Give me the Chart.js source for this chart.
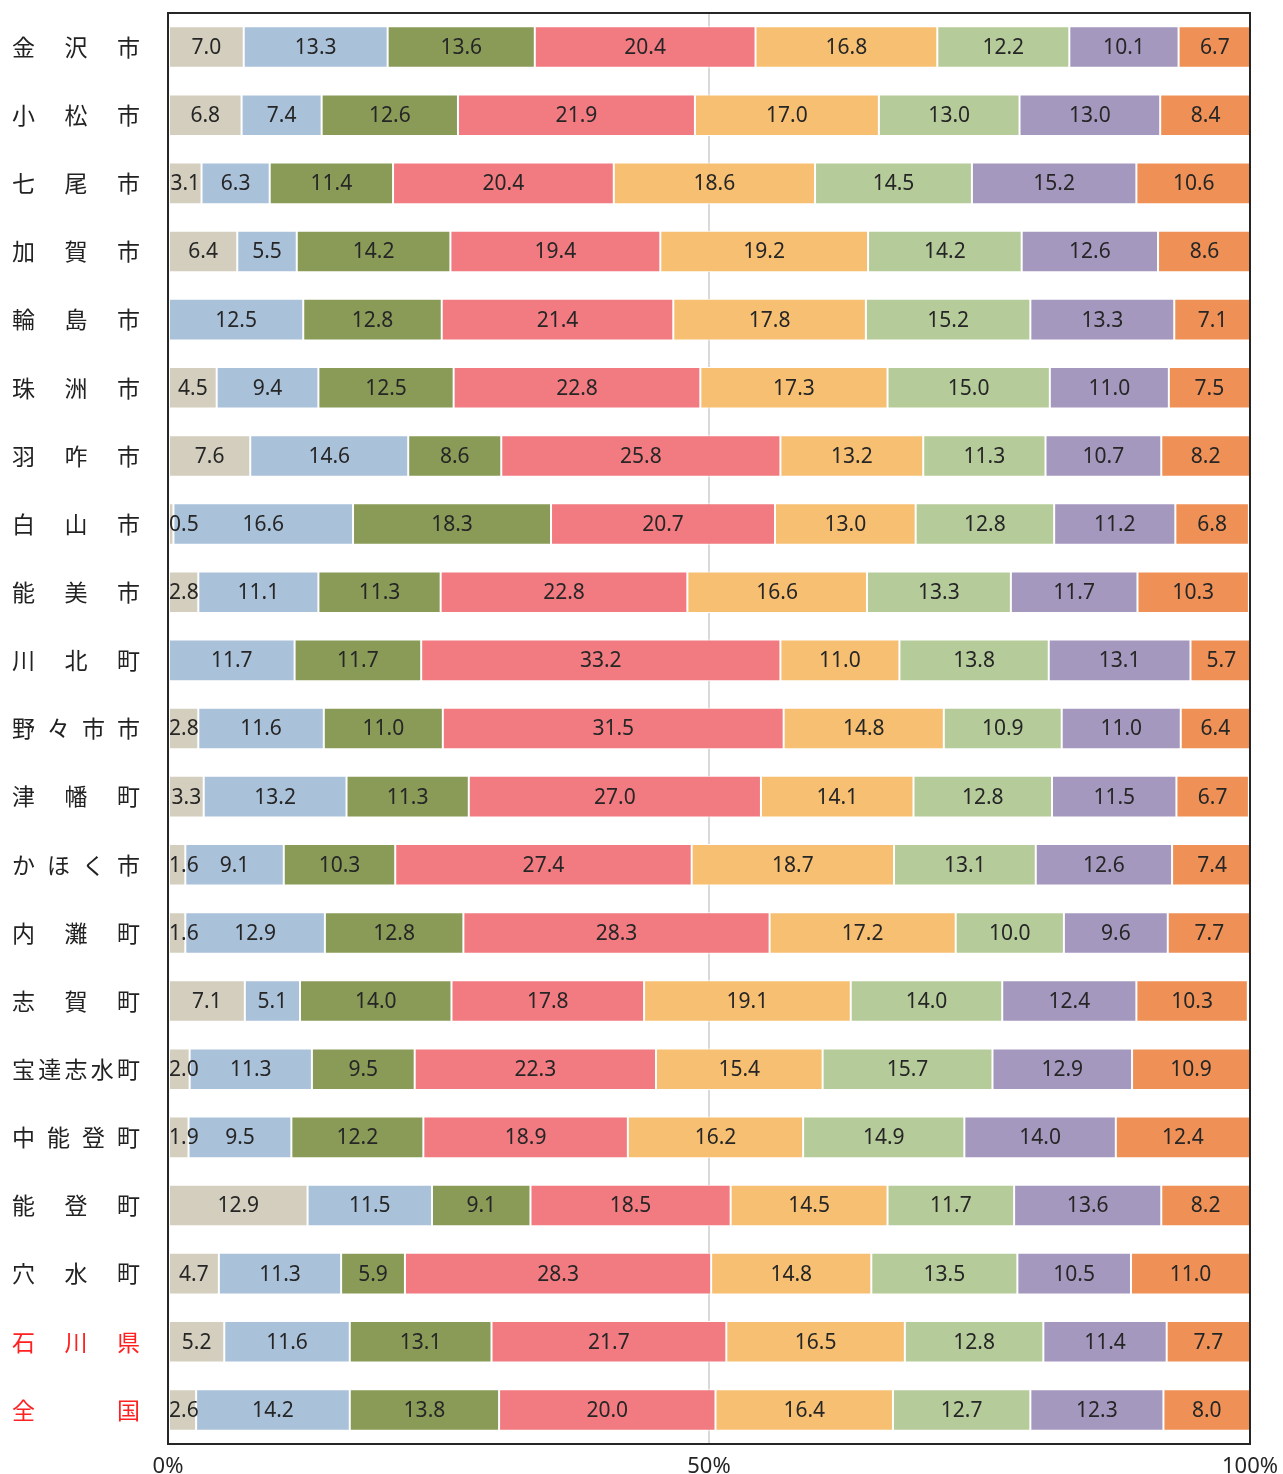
<!DOCTYPE html>
<html lang="ja">
  <head>
    <meta charset="UTF-8" />
    <title>市町別 構成比</title>
    <script src="https://cdn.jsdelivr.net/npm/chart.js"></script>
    <style>
      body {
        margin: 0;
        background: #fff;
      }
      #wrap {
        width: 1283px;
        height: 1474px;
      }
    </style>
  </head>
  <body>
    <div id="wrap"><canvas id="chart"></canvas></div>
    <script>
      const areas = [
        "金沢市", "小松市", "七尾市", "加賀市", "輪島市", "珠洲市", "羽咋市",
        "白山市", "能美市", "川北町", "野々市市", "津幡町", "かほく市", "内灘町",
        "志賀町", "宝達志水町", "中能登町", "能登町", "穴水町", "石川県", "全国",
      ];
      const redAreas = ["石川県", "全国"];

      // one array per segment, left to right
      const s1 = [7.0, 6.8, 3.1, 6.4, null, 4.5, 7.6, 0.5, 2.8, null, 2.8, 3.3, 1.6, 1.6, 7.1, 2.0, 1.9, 12.9, 4.7, 5.2, 2.6];
      const s2 = [13.3, 7.4, 6.3, 5.5, 12.5, 9.4, 14.6, 16.6, 11.1, 11.7, 11.6, 13.2, 9.1, 12.9, 5.1, 11.3, 9.5, 11.5, 11.3, 11.6, 14.2];
      const s3 = [13.6, 12.6, 11.4, 14.2, 12.8, 12.5, 8.6, 18.3, 11.3, 11.7, 11.0, 11.3, 10.3, 12.8, 14.0, 9.5, 12.2, 9.1, 5.9, 13.1, 13.8];
      const s4 = [20.4, 21.9, 20.4, 19.4, 21.4, 22.8, 25.8, 20.7, 22.8, 33.2, 31.5, 27.0, 27.4, 28.3, 17.8, 22.3, 18.9, 18.5, 28.3, 21.7, 20.0];
      const s5 = [16.8, 17.0, 18.6, 19.2, 17.8, 17.3, 13.2, 13.0, 16.6, 11.0, 14.8, 14.1, 18.7, 17.2, 19.1, 15.4, 16.2, 14.5, 14.8, 16.5, 16.4];
      const s6 = [12.2, 13.0, 14.5, 14.2, 15.2, 15.0, 11.3, 12.8, 13.3, 13.8, 10.9, 12.8, 13.1, 10.0, 14.0, 15.7, 14.9, 11.7, 13.5, 12.8, 12.7];
      const s7 = [10.1, 13.0, 15.2, 12.6, 13.3, 11.0, 10.7, 11.2, 11.7, 13.1, 11.0, 11.5, 12.6, 9.6, 12.4, 12.9, 14.0, 13.6, 10.5, 11.4, 12.3];
      const s8 = [6.7, 8.4, 10.6, 8.6, 7.1, 7.5, 8.2, 6.8, 10.3, 5.7, 6.4, 6.7, 7.4, 7.7, 10.3, 10.9, 12.4, 8.2, 11.0, 7.7, 8.0];

      const seriesValues = [s1, s2, s3, s4, s5, s6, s7, s8];
      const colors = ["#d3cebd", "#aac1da", "#8a9b58", "#f27a81", "#f6bf71", "#b6cb9a", "#a598bf", "#ef9156"];
      const xTicks = [0, 50, 100];

      const numFont = "21px 'Noto Sans', sans-serif";
      const tickFont = "22px 'Noto Sans', sans-serif";
      const nameFont = "23px 'Noto Sans CJK JP', sans-serif";

      // names spread evenly over a fixed width, left of the plot
      const areaNames = {
        id: "areaNames",
        afterDraw(chart) {
          const ctx = chart.ctx;
          const y = chart.scales.y;
          const x0 = 12, x1 = 140;
          ctx.save();
          ctx.font = nameFont;
          ctx.textBaseline = "middle";
          ctx.textAlign = "left";
          areas.forEach((name, i) => {
            const py = y.getPixelForValue(i);
            const chars = [...name];
            ctx.fillStyle = redAreas.includes(name) ? "#ff2020" : "#222";
            const widths = chars.map((c) => ctx.measureText(c).width);
            const total = widths.reduce((a, b) => a + b, 0);
            const gap = chars.length > 1 ? (x1 - x0 - total) / (chars.length - 1) : 0;
            let px = x0;
            chars.forEach((c, k) => {
              ctx.fillText(c, px, py);
              px += widths[k] + gap;
            });
          });
          ctx.restore();
        },
      };

      // percent labels under the plot
      const xLabels = {
        id: "xLabels",
        afterDraw(chart) {
          const ctx = chart.ctx;
          const x = chart.scales.x;
          ctx.save();
          ctx.font = tickFont;
          ctx.fillStyle = "#262626";
          ctx.textAlign = "center";
          ctx.textBaseline = "middle";
          xTicks.forEach((v) => {
            ctx.fillText(v + "%", x.getPixelForValue(v), chart.chartArea.bottom + 23);
          });
          ctx.restore();
        },
      };

      // value labels, kept inside the plot on the left edge
      const valueLabels = {
        id: "valueLabels",
        afterDatasetsDraw(chart) {
          const ctx = chart.ctx;
          const left = chart.chartArea.left;
          ctx.save();
          ctx.font = numFont;
          ctx.fillStyle = "#262626";
          ctx.textAlign = "center";
          ctx.textBaseline = "middle";
          chart.data.datasets.forEach((ds, di) => {
            const meta = chart.getDatasetMeta(di);
            meta.data.forEach((bar, i) => {
              const v = ds.data[i];
              if (v == null) return;
              const txt = v.toFixed(1);
              const w = ctx.measureText(txt).width;
              const cx = Math.max((bar.x + bar.base) / 2, left + 1 + w / 2);
              ctx.fillText(txt, cx, bar.y + 1);
            });
          });
          ctx.restore();
        },
      };

      const frame = {
        id: "frame",
        afterDraw(chart) {
          const a = chart.chartArea;
          const ctx = chart.ctx;
          ctx.save();
          ctx.strokeStyle = "#262626";
          ctx.lineWidth = 2;
          ctx.strokeRect(a.left, a.top, a.right - a.left, a.bottom - a.top);
          ctx.restore();
        },
      };

      new Chart(document.getElementById("chart"), {
        type: "bar",
        data: {
          labels: areas,
          datasets: seriesValues.map((vals, k) => ({
            data: vals,
            backgroundColor: colors[k],
            borderColor: "#ffffff",
            borderWidth: 1,
            borderSkipped: false,
            categoryPercentage: 0.61,
            barPercentage: 1,
          })),
        },
        options: {
          indexAxis: "y",
          responsive: true,
          maintainAspectRatio: false,
          animation: false,
          layout: { padding: { left: 168, top: 13, right: 33, bottom: 30 } },
          plugins: {
            legend: { display: false },
            tooltip: { enabled: false },
          },
          scales: {
            x: {
              stacked: true,
              min: 0,
              max: 100,
              afterBuildTicks: (scale) => {
                scale.ticks = xTicks.map((v) => ({ value: v }));
              },
              ticks: { display: false },
              grid: {
                color: (c) => (c.tick && c.tick.value === 50 ? "#d9d9d9" : "transparent"),
                lineWidth: 2,
                drawTicks: false,
              },
              border: { display: false },
            },
            y: {
              display: false,
              stacked: true,
            },
          },
        },
        plugins: [areaNames, valueLabels, frame, xLabels],
      });
    </script>
  </body>
</html>
